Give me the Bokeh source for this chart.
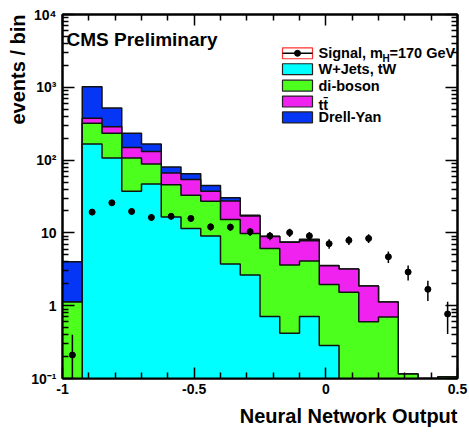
import numpy as np
from bokeh.plotting import figure
from bokeh.models import (FixedTicker, CustomJSTickFormatter, LogAxis, LinearAxis,
                          Label, Title)
from bokeh.embed import file_html
from bokeh.resources import INLINE

# ---------------- data ----------------
bin_edges = [-1.0, -0.925, -0.85, -0.775, -0.7, -0.625, -0.55, -0.475, -0.4, -0.325,
             -0.25, -0.175, -0.1, -0.025, 0.05, 0.125, 0.2, 0.275, 0.35, 0.425, 0.5]
wjets   = [0.0, 166, 107, 37.3, 47, 16.5, 11.5, 9.1, 3.73, 2.64,
           0.71, 0.42, 0.71, 0.285, 0.0, 0.0, 0.0, 0.0, 0.0, 0.0]
diboson = [1.12, 155, 127, 69.7, 41.5, 29.5, 21.5, 18.2, 11.6, 7.2,
           5.4, 3.2, 3.4, 1.67, 1.53, 0.6, 0.70, 0.115, 0.0, 0.105]
ttbar   = [0.0, 55, 54, 42, 42.5, 20.7, 21, 10, 12, 7.2,
           2.8, 3.8, 3.7, 1.58, 1.67, 1.27, 0.42, 0.0, 0.0, 0.0]
dy      = [2.88, 640, 232, 85, 35, 13.8, 11, 7.4, 3.0, 0.5,
           0.1, 0.05, 0.4, 0.02, 0.0, 0.0, 0.0, 0.0, 0.0, 0.0]
signal  = [0.21, 19.3, 25.9, 19.7, 16.3, 16.9, 15.8, 12.1, 12.0, 10.4,
           9.1, 10.1, 9.1, 7.1, 7.9, 8.4, 4.7, 2.9, 1.68, 0.77]
signal_err = [0.19, 1.8, 2.0, 1.8, 1.6, 1.6, 1.6, 1.4, 1.4, 1.3,
              1.2, 1.3, 1.2, 1.05, 1.1, 1.15, 0.85, 0.68, 0.52, 0.36]
x_ticks = [-1.0, -0.5, 0.0, 0.5]
y_ticks = [0.1, 1, 10, 100, 1000, 10000]

legend_labels = ["Signal, m", "W+Jets, tW", "di-boson", "tt\u0304", "Drell-Yan"]

# ---------------- style ----------------
FONT = "Liberation Sans"
C_CYAN, C_GREEN, C_MAG, C_BLUE = "#00ffff", "#4cff1c", "#f022f0", "#0535f5"
FLOOR = 1e-3

W, H = 469, 432
FL, FR, FT, FB = 62, 457, 14, 380   # frame pixel edges


def X(px):
    return -1.0 + (px - FL) / (FR - FL) * 1.5


def Y(py):
    return 10 ** (-1 + (FB - py) / (FB - FT) * 5)


p = figure(width=W, height=H, x_range=(-1.0, 0.5), y_range=(0.1, 1e4),
           y_axis_type="log", output_backend="svg", toolbar_location=None,
           min_border_left=FL, min_border_right=W - FR,
           min_border_top=FT, min_border_bottom=H - FB)
p.background_fill_color = "white"
p.border_fill_color = "white"
p.grid.visible = False
p.outline_line_color = "black"
p.outline_line_width = 2

edges = np.array(bin_edges)
left, right = edges[:-1], edges[1:]
centers = (left + right) / 2

comp = np.array([wjets, diboson, ttbar, dy])
cum = np.cumsum(comp, axis=0)  # cyan, green, magenta, blue tops


def step_outline(top):
    t = np.where(top > 0, top, FLOOR)
    xs, ys = [edges[0]], [FLOOR]
    for i in range(len(t)):
        xs += [edges[i], edges[i + 1]]
        ys += [t[i], t[i]]
    xs.append(edges[-1])
    ys.append(FLOOR)
    return xs, ys


for idx, col in [(3, C_BLUE), (2, C_MAG), (1, C_GREEN), (0, C_CYAN)]:
    xs, ys = step_outline(cum[idx])
    p.patch(xs, ys, fill_color=col, line_color=None)
    p.line(xs, ys, line_color="#111111", line_width=1.5)

sig = np.array(signal)
err = np.array(signal_err)
p.segment(x0=centers, y0=np.maximum(sig - err, FLOOR), x1=centers, y1=sig + err,
          line_color="black", line_width=1.5)
p.scatter(centers, sig, size=6, color="black")

# ---------------- axes ----------------
xminor = [round(-1 + 0.1 * i, 2) for i in range(16)]
xminor = [v for v in xminor if v not in x_ticks]
yminor = [m * 10.0 ** e for e in range(-1, 4) for m in range(2, 10)]

xt = FixedTicker(ticks=x_ticks, minor_ticks=xminor)
yt = FixedTicker(ticks=y_ticks, minor_ticks=yminor)

xfmt = CustomJSTickFormatter(code="return tick.toString();")
yfmt = CustomJSTickFormatter(code="""
const e = Math.round(Math.log10(tick));
if (e == 0) return "1";
if (e == 1) return "10";
const sup = {"-1": "\\u207b\\u00b9", "2": "\\u00b2", "3": "\\u00b3", "4": "\\u2074"};
return "10" + sup[String(e)];
""")
blank = CustomJSTickFormatter(code="return '';")


def style_axis(ax, major_in, minor_in):
    ax.axis_line_color = "black"
    ax.axis_line_width = 2
    ax.major_tick_in = major_in
    ax.major_tick_out = 0
    ax.minor_tick_in = minor_in
    ax.minor_tick_out = 0
    ax.major_tick_line_color = "black"
    ax.minor_tick_line_color = "black"
    ax.major_tick_line_width = 1.5
    ax.minor_tick_line_width = 1.5
    ax.major_label_text_font = FONT
    ax.major_label_text_font_style = "bold"
    ax.major_label_text_font_size = "14px"
    ax.major_label_text_color = "black"


xa = p.xaxis[0]
xa.ticker = xt
xa.formatter = xfmt
style_axis(xa, 11, 6)
xa.major_label_standoff = 5

ya = p.yaxis[0]
ya.ticker = yt
ya.formatter = yfmt
style_axis(ya, 12, 6)
ya.major_label_standoff = 6

ra = LogAxis(ticker=yt, formatter=blank, major_label_standoff=0)
style_axis(ra, 12, 6)
p.add_layout(ra, "right")
ta = LinearAxis(ticker=xt, formatter=blank, major_label_standoff=0)
style_axis(ta, 11, 6)
p.add_layout(ta, "above")

p.add_layout(Title(text="Neural Network Output", align="right", text_font=FONT,
                   text_font_style="bold", text_font_size="20px",
                   text_color="black", standoff=12), "below")
p.add_layout(Title(text="events / bin", align="right", text_font=FONT,
                   text_font_style="bold", text_font_size="20px",
                   text_color="black", standoff=0), "left")

# ---------------- texts & legend ----------------
p.add_layout(Label(x=X(66), y=Y(39), text="CMS Preliminary", text_font=FONT,
                   text_font_style="bold", text_font_size="19px",
                   text_color="black", text_baseline="alphabetic"))

rows = [53, 69, 85.5, 101.5, 117.5]
fills = ["white", C_CYAN, C_GREEN, C_MAG, C_BLUE]
outlines = ["#ff3030", "#222222", "#222222", "#222222", "#222222"]
for r, f, o in zip(rows, fills, outlines):
    p.quad(left=[X(282)], right=[X(312)], top=[Y(r - 5.5)], bottom=[Y(r + 5.5)],
           fill_color=f, line_color=o, line_width=1.2)
p.segment(x0=[X(282)], x1=[X(312)], y0=[Y(rows[0])], y1=[Y(rows[0])],
          line_color="black", line_width=1.5)
p.scatter([X(297)], [Y(rows[0])], size=6, color="black")

for r, lab in zip(rows, legend_labels):
    dy_px = 3 if lab.startswith("tt") else 0
    p.add_layout(Label(x=X(318), y=Y(r + dy_px), text=lab,
                       text_font=FONT, text_font_style="bold",
                       text_font_size="14.5px", text_color="black",
                       text_baseline="middle"))
p.add_layout(Label(x=X(382), y=Y(58), text="H", text_font=FONT,
                   text_font_style="bold", text_font_size="10px",
                   text_color="black", text_baseline="middle"))
p.add_layout(Label(x=X(389), y=Y(rows[0]), text="=170 GeV", text_font=FONT,
                   text_font_style="bold", text_font_size="14.5px",
                   text_color="black", text_baseline="middle"))

open("out.html", "w").write(file_html(p, INLINE))
